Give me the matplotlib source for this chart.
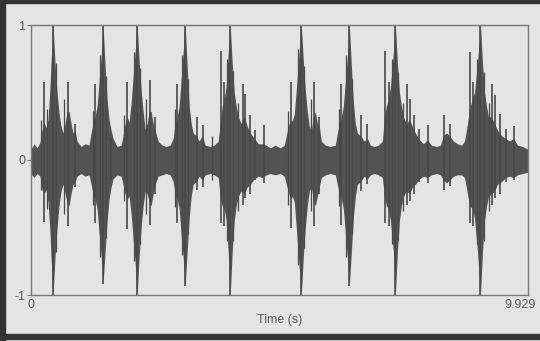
import numpy as np
import matplotlib
matplotlib.use("Agg")
import matplotlib.pyplot as plt
import matplotlib.transforms as mtransforms
from matplotlib.patches import Rectangle

plt.rcParams['font.family'] = ['Liberation Sans', 'DejaVu Sans']

# envelope of the recording (time in s, amplitude)
env_t = [0.00, 0.06, 0.12, 0.18, 0.22, 0.26, 0.30, 0.34, 0.38, 0.40, 0.44, 0.48, 0.52, 0.56, 0.60,
         0.64, 0.68, 0.72, 0.76, 0.80, 0.84, 0.88, 0.92, 1.00, 1.08, 1.16, 1.20, 1.24, 1.28, 1.32,
         1.36, 1.40, 1.44, 1.48, 1.52, 1.56, 1.60, 1.64, 1.72, 1.80, 1.84, 1.88, 1.92, 1.96, 2.00,
         2.04, 2.08, 2.12, 2.16, 2.20, 2.24, 2.28, 2.32, 2.36, 2.40, 2.44, 2.48, 2.54, 2.62, 2.70,
         2.78, 2.84, 2.88, 2.92, 2.96, 3.00, 3.04, 3.08, 3.12, 3.16, 3.20, 3.24, 3.30, 3.36, 3.42,
         3.48, 3.58, 3.66, 3.74, 3.78, 3.82, 3.86, 3.90, 3.94, 3.98, 4.02, 4.06, 4.10, 4.14, 4.20,
         4.26, 4.32, 4.38, 4.46, 4.54, 4.62, 4.70, 4.78, 4.88, 4.98, 5.06, 5.10, 5.14, 5.18, 5.22,
         5.26, 5.30, 5.34, 5.40, 5.44, 5.48, 5.52, 5.56, 5.60, 5.64, 5.68, 5.72, 5.76, 5.80, 5.88,
         5.98, 6.08, 6.12, 6.16, 6.20, 6.24, 6.28, 6.32, 6.36, 6.40, 6.44, 6.48, 6.52, 6.58, 6.66,
         6.72, 6.78, 6.86, 6.94, 7.02, 7.06, 7.10, 7.14, 7.18, 7.24, 7.28, 7.32, 7.36, 7.40, 7.44,
         7.50, 7.56, 7.62, 7.68, 7.76, 7.84, 7.92, 8.00, 8.10, 8.18, 8.24, 8.30, 8.36, 8.44, 8.52,
         8.60, 8.66, 8.72, 8.76, 8.82, 8.86, 8.92, 8.98, 9.02, 9.06, 9.10, 9.14, 9.20, 9.26, 9.32,
         9.40, 9.48, 9.56, 9.64, 9.72, 9.82, 9.929]
env_hi = [0.08, 0.12, 0.09, 0.13, 0.22, 0.28, 0.24, 0.30, 0.55, 0.72, 1.00, 0.72, 0.50, 0.35, 0.25,
          0.20, 0.27, 0.36, 0.36, 0.27, 0.20, 0.22, 0.14, 0.10, 0.12, 0.11, 0.20, 0.27, 0.32, 0.40,
          0.58, 0.76, 1.00, 0.70, 0.45, 0.30, 0.22, 0.16, 0.10, 0.11, 0.18, 0.27, 0.32, 0.28, 0.42,
          0.62, 0.80, 1.00, 0.74, 0.52, 0.36, 0.23, 0.27, 0.36, 0.36, 0.27, 0.22, 0.14, 0.11, 0.10,
          0.11, 0.16, 0.27, 0.32, 0.40, 0.60, 0.80, 1.00, 0.70, 0.40, 0.27, 0.20, 0.18, 0.14, 0.18,
          0.11, 0.10, 0.11, 0.14, 0.27, 0.40, 0.45, 0.55, 0.80, 1.00, 0.72, 0.50, 0.40, 0.32, 0.27,
          0.32, 0.25, 0.20, 0.16, 0.12, 0.12, 0.11, 0.09, 0.11, 0.09, 0.11, 0.18, 0.25, 0.29, 0.29,
          0.34, 0.52, 0.72, 1.00, 0.74, 0.52, 0.36, 0.25, 0.22, 0.32, 0.36, 0.27, 0.25, 0.14, 0.11,
          0.10, 0.11, 0.20, 0.27, 0.32, 0.40, 0.58, 0.76, 1.00, 0.70, 0.43, 0.27, 0.20, 0.18, 0.14,
          0.16, 0.11, 0.10, 0.11, 0.14, 0.32, 0.40, 0.45, 0.54, 0.80, 1.00, 0.72, 0.50, 0.40, 0.32,
          0.27, 0.30, 0.25, 0.20, 0.15, 0.12, 0.15, 0.11, 0.10, 0.11, 0.18, 0.20, 0.18, 0.14, 0.12,
          0.11, 0.14, 0.27, 0.38, 0.45, 0.50, 0.72, 1.00, 0.72, 0.50, 0.40, 0.32, 0.32, 0.27, 0.22,
          0.18, 0.16, 0.14, 0.16, 0.11, 0.10, 0.08]
env_lo = [-0.10, -0.13, -0.10, -0.12, -0.22, -0.25, -0.22, -0.31, -0.54, -0.72, -1.00, -0.72, -0.50, -0.34, -0.23,
          -0.18, -0.25, -0.31, -0.34, -0.25, -0.18, -0.16, -0.12, -0.10, -0.12, -0.11, -0.18, -0.25, -0.29, -0.36,
          -0.54, -0.70, -0.92, -0.68, -0.45, -0.29, -0.20, -0.14, -0.11, -0.12, -0.18, -0.25, -0.29, -0.27, -0.40,
          -0.58, -0.76, -1.00, -0.72, -0.50, -0.34, -0.23, -0.25, -0.31, -0.34, -0.25, -0.18, -0.12, -0.11, -0.10,
          -0.11, -0.16, -0.25, -0.29, -0.36, -0.56, -0.72, -0.93, -0.68, -0.43, -0.27, -0.18, -0.16, -0.12, -0.15,
          -0.11, -0.10, -0.11, -0.13, -0.27, -0.34, -0.36, -0.45, -0.68, -1.00, -0.68, -0.45, -0.34, -0.27, -0.23,
          -0.25, -0.20, -0.18, -0.14, -0.12, -0.13, -0.11, -0.10, -0.11, -0.10, -0.12, -0.18, -0.23, -0.29, -0.27,
          -0.31, -0.50, -0.70, -1.00, -0.72, -0.50, -0.34, -0.23, -0.20, -0.29, -0.34, -0.27, -0.20, -0.13, -0.11,
          -0.10, -0.11, -0.18, -0.25, -0.29, -0.36, -0.54, -0.72, -0.93, -0.68, -0.43, -0.27, -0.18, -0.16, -0.12,
          -0.14, -0.11, -0.10, -0.11, -0.13, -0.27, -0.34, -0.36, -0.45, -0.68, -1.00, -0.68, -0.45, -0.34, -0.27,
          -0.23, -0.25, -0.20, -0.18, -0.14, -0.12, -0.13, -0.11, -0.10, -0.11, -0.15, -0.17, -0.15, -0.12, -0.11,
          -0.11, -0.13, -0.25, -0.34, -0.36, -0.43, -0.68, -1.00, -0.68, -0.45, -0.34, -0.27, -0.25, -0.23, -0.18,
          -0.16, -0.13, -0.12, -0.13, -0.11, -0.10, -0.09]

# tall spikes standing out of the envelope
spike_t = [0.26, 0.44, 0.74, 0.88, 1.28, 1.44, 1.60, 1.92, 2.12, 2.38, 2.48, 2.92, 3.08, 3.32, 3.44,
           3.80, 3.86, 3.98, 4.24, 4.28, 4.38, 4.48, 4.66, 5.20, 5.40, 5.66, 5.76, 6.20, 6.36, 6.60,
           6.72, 7.08, 7.16, 7.28, 7.52, 7.58, 7.66, 7.76, 7.94, 8.26, 8.38, 8.78, 8.84, 8.98, 9.20,
           9.26, 9.36, 9.48, 9.64]
spike_hi = [0.58, 1.00, 0.58, 0.27, 0.56, 1.00, 0.17, 0.58, 1.00, 0.59, 0.32, 0.56, 1.00, 0.32, 0.26,
            0.81, 0.58, 1.00, 0.56, 0.49, 0.33, 0.22, 0.26, 0.58, 1.00, 0.58, 0.32, 0.56, 1.00, 0.33,
            0.27, 0.81, 0.58, 1.00, 0.56, 0.45, 0.33, 0.23, 0.26, 0.33, 0.27, 0.80, 0.58, 1.00, 0.56,
            0.48, 0.34, 0.23, 0.25]
spike_lo = [-0.46, -1.00, -0.49, -0.20, -0.47, -0.92, -0.15, -0.51, -1.00, -0.48, -0.25, -0.47, -0.93, -0.22, -0.20,
            -0.47, -0.49, -1.00, -0.33, -0.28, -0.25, -0.15, -0.17, -0.50, -1.00, -0.49, -0.25, -0.48, -0.93, -0.23,
            -0.18, -0.47, -0.49, -1.00, -0.33, -0.30, -0.25, -0.16, -0.17, -0.22, -0.19, -0.47, -0.49, -1.00, -0.33,
            -0.28, -0.25, -0.16, -0.15]

# smaller spikes inside the bursts
minor_t = [0.20, 0.32, 0.50, 0.66, 1.24, 1.38, 1.50, 1.86, 2.06, 2.18, 2.30, 2.88, 3.02, 3.14,
           3.62, 3.92, 4.04, 4.14, 5.14, 5.34, 5.46, 5.60, 6.16, 6.30, 6.42, 7.22, 7.34, 7.44,
           8.92, 9.04, 9.14]
minor_hi = [0.30, 0.38, 0.72, 0.45, 0.36, 0.78, 0.62, 0.33, 0.80, 0.68, 0.45, 0.38, 0.78, 0.60,
            0.18, 0.75, 0.66, 0.42, 0.36, 0.82, 0.70, 0.45, 0.38, 0.78, 0.60, 0.75, 0.65, 0.42,
            0.75, 0.65, 0.42]
minor_lo = [-0.22, -0.36, -0.68, -0.40, -0.33, -0.72, -0.58, -0.30, -0.75, -0.62, -0.40, -0.35, -0.70, -0.55,
            -0.15, -0.60, -0.60, -0.38, -0.33, -0.78, -0.65, -0.38, -0.34, -0.72, -0.55, -0.62, -0.60, -0.38,
            -0.62, -0.60, -0.38]

duration = 9.929
bg = '#e4e4e4'
body = '#535353'
wave = '#484848'
grey = '#777777'
text_c = '#595959'

fig = plt.figure(figsize=(5.4, 3.41), dpi=100, facecolor=bg)
ax = fig.add_axes([31 / 540, 1 - 295 / 341, 497 / 540, 270 / 341])
ax.set_facecolor(bg)

ax.fill_between(env_t, env_lo, env_hi, color=body, lw=0)
ax.vlines(minor_t, minor_lo, minor_hi, color=wave, lw=0.9)
ax.vlines(spike_t, spike_lo, spike_hi, color=wave, lw=1.2)

ax.set_xlim(0, duration)
ax.set_ylim(-1, 1)
ax.set_xticks([0, duration], ['0', '9.929'])
ax.set_yticks([-1, 0, 1], ['-1', '0', '1'])
ax.tick_params(axis='x', length=0, pad=3, labelsize=9, labelcolor=text_c)
ax.tick_params(axis='y', length=3, width=0.8, color=grey, pad=1, labelsize=9, labelcolor=text_c)
# last tick label sits left of the axis end, as in the original
last = ax.get_xticklabels()[-1]
last.set_transform(last.get_transform() + mtransforms.ScaledTranslation(-8 / 100, 0, fig.dpi_scale_trans))
ax.set_xlabel('Time (s)', fontsize=9, color=text_c, labelpad=2)
for s in ax.spines.values():
    s.set_color(grey)
    s.set_linewidth(1.0)

# dark scan frame: left, top and bottom edges
frame = '#333333'
fig.patches.append(Rectangle((0, 0), 5 / 540, 1, transform=fig.transFigure, color=frame))
fig.patches.append(Rectangle((0, 1 - 3 / 341), 1, 3 / 341, transform=fig.transFigure, color=frame))
fig.patches.append(Rectangle((0, 2 / 341), 1, 5 / 341, transform=fig.transFigure, color=frame))

fig.savefig('out.png', dpi=100, facecolor=bg)
